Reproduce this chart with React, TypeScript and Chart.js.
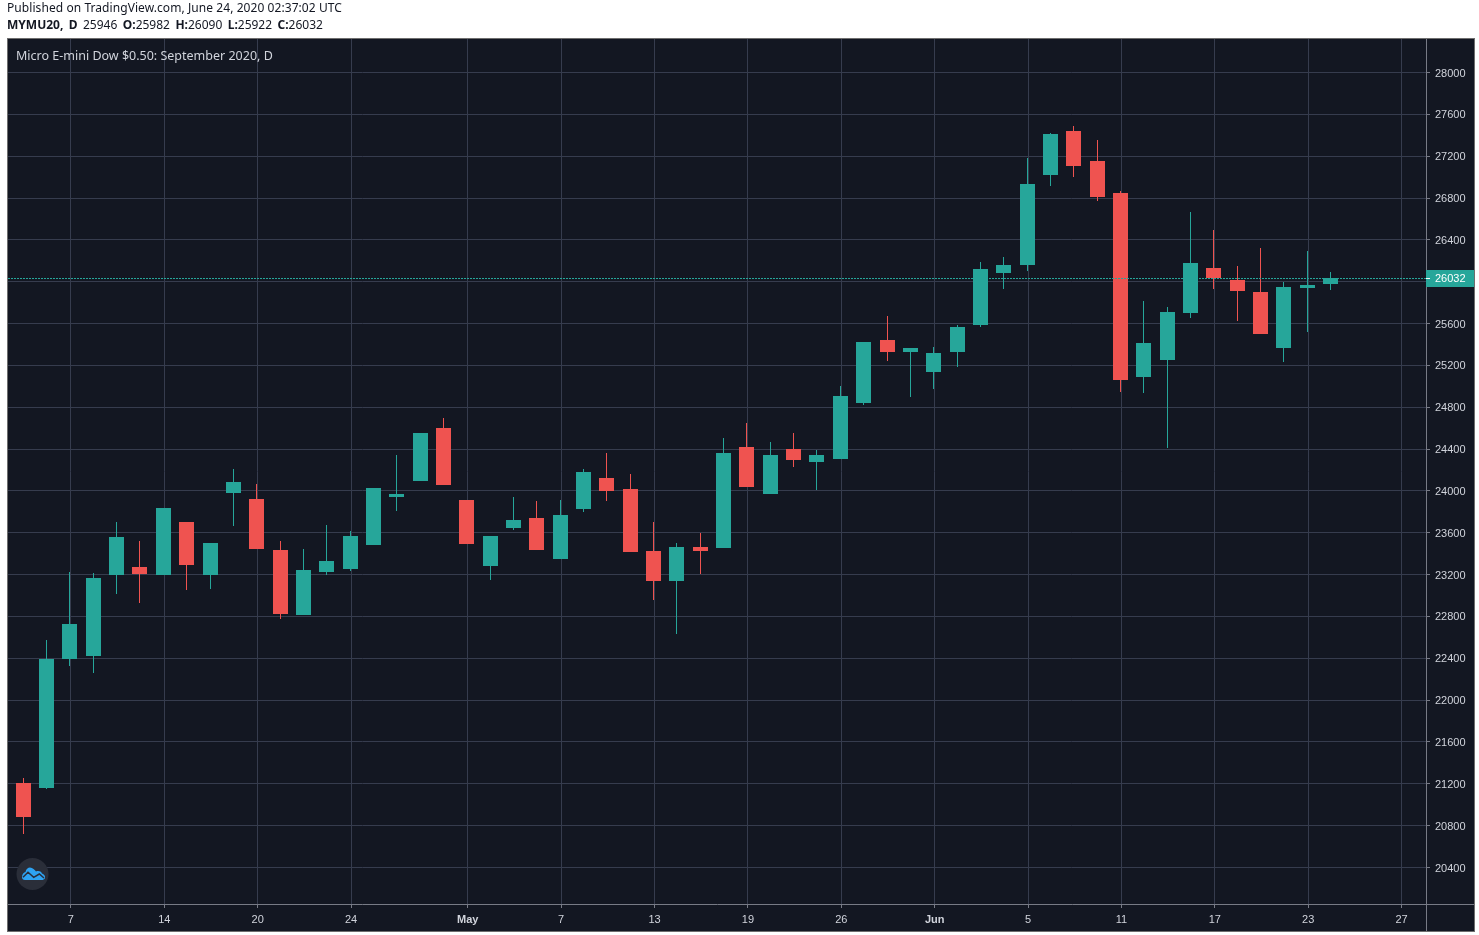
import React, { useEffect, useRef } from "react";
import { Chart, registerables } from "chart.js";

Chart.register(...registerables);

const sessions = [
  "Apr 3", "Apr 6", "Apr 7", "Apr 8", "Apr 9", "Apr 13", "Apr 14", "Apr 15", "Apr 16", "Apr 17",
  "Apr 20", "Apr 21", "Apr 22", "Apr 23", "Apr 24", "Apr 27", "Apr 28", "Apr 29", "Apr 30", "May 1",
  "May 4", "May 5", "May 6", "May 7", "May 8", "May 11", "May 12", "May 13", "May 14", "May 15",
  "May 18", "May 19", "May 20", "May 21", "May 22", "May 26", "May 27", "May 28", "May 29", "Jun 1",
  "Jun 2", "Jun 3", "Jun 4", "Jun 5", "Jun 8", "Jun 9", "Jun 10", "Jun 11", "Jun 12", "Jun 15",
  "Jun 16", "Jun 17", "Jun 18", "Jun 19", "Jun 22", "Jun 23", "Jun 24",
];

const opens = [
  21205, 21157, 22390, 22419, 23194, 23270, 23194, 23701, 23194, 23978,
  23921, 23433, 22811, 23222, 23251, 23481, 23940, 24093, 24600, 23911,
  23280, 23643, 23739, 23347, 23825, 24121, 24016, 23423, 23136, 23461,
  23452, 24418, 23968, 24399, 24274, 24303, 24839, 25441, 25326, 25135,
  25326, 25585, 26082, 26158, 27019, 27440, 27153, 26847, 25087, 25250,
  25700, 26130, 26015, 25900, 25365, 25939, 25982,
];
const closes = [
  20879, 22390, 22725, 23165, 23557, 23203, 23835, 23289, 23500, 24083,
  23442, 22821, 23241, 23328, 23567, 24026, 23968, 24552, 24054, 23490,
  23567, 23720, 23433, 23768, 24179, 23997, 23414, 23136, 23461, 23423,
  24360, 24035, 24341, 24294, 24341, 24906, 25422, 25326, 25365, 25317,
  25566, 26120, 26158, 26933, 27411, 27105, 26809, 25059, 25413, 25709,
  26178, 26034, 25910, 25499, 25948, 25967, 26032,
];
const highs = [
  21252, 22572, 23222, 23213, 23701, 23519, 23835, 23701, 23500, 24207,
  24064, 23519, 23444, 23672, 23614, 24026, 24341, 24552, 24695, 23911,
  23567, 23940, 23901, 23911, 24207, 24360, 24160, 23701, 23500, 23595,
  24504, 24647, 24466, 24552, 24389, 25001, 25422, 25671, 25365, 25374,
  25585, 26187, 26235, 27182, 27421, 27488, 27354, 26866, 25814, 25757,
  26665, 26493, 26149, 26321, 25996, 26292, 26090,
];
const lows = [
  20717, 21147, 22323, 22256, 23012, 22926, 23194, 23050, 23060, 23662,
  23442, 22773, 22811, 23194, 23232, 23481, 23806, 24093, 24054, 23490,
  23146, 23624, 23433, 23347, 23796, 23901, 23414, 22955, 22629, 23203,
  23452, 24035, 23968, 24227, 24007, 24303, 24820, 25240, 24896, 24973,
  25183, 25566, 25929, 26101, 26914, 27000, 26771, 24944, 24934, 24408,
  25652, 25929, 25623, 25499, 25231, 25518, 25922,
];

const priceTicks = [
  20400, 20800, 21200, 21600, 22000, 22400, 22800, 23200, 23600, 24000,
  24400, 24800, 25200, 25600, 26000, 26400, 26800, 27200, 27600, 28000,
];
const timeTickIndexes = [2, 6, 10, 14, 19, 23, 27, 31, 35, 39, 43, 47, 51, 55, 59];
const timeTickLabels = ["7", "14", "20", "24", "May", "7", "13", "19", "26", "Jun", "5", "11", "17", "23", "27"];
const boldTimeLabels = ["May", "Jun"];
const lastPrice = 26032;

const UP = "#26a69a";
const DOWN = "#ef5350";
const BG = "#131722";
const GRID = "#363c4e";
const AXIS = "#787b86";
const TEXT = "#d1d4dc";
const GRID_SHIFT = 0.0407;
const Y_LABEL_NUDGE = 1;

const frame = {
  id: "frame",
  beforeDraw(chart: any) {
    const { ctx, width, height } = chart;
    ctx.save();
    ctx.fillStyle = "#ffffff";
    ctx.fillRect(0, 0, width, height);
    ctx.fillStyle = BG;
    ctx.fillRect(7, 38, 1468, 894);
    ctx.strokeStyle = "#6e6e6e";
    ctx.lineWidth = 1;
    ctx.strokeRect(7.5, 38.5, 1467, 893);
    ctx.restore();
    chart.scales.y.getLabelItems(chart.chartArea).forEach((item: any) => {
      item.options.translation[1] = Math.round(item.options.translation[1]) + Y_LABEL_NUDGE;
    });
  },
  afterDatasetsUpdate(chart: any) {
    chart.data.datasets.forEach((_: any, i: number) => {
      chart.getDatasetMeta(i).data.forEach((el: any) => {
        el.x = Math.floor(el.x) + 0.5;
        el.y = Math.round(el.y);
        el.base = Math.round(el.base);
      });
    });
  },
  afterDraw(chart: any) {
    const { ctx, chartArea, scales } = chart;
    const y = Math.floor(scales.y.getPixelForValue(lastPrice));
    ctx.save();
    // axis lines carried on to the frame
    ctx.strokeStyle = AXIS;
    ctx.lineWidth = 1;
    ctx.beginPath();
    ctx.moveTo(chartArea.right, 904.5);
    ctx.lineTo(1474, 904.5);
    ctx.moveTo(1426.5, chartArea.bottom);
    ctx.lineTo(1426.5, 931);
    ctx.stroke();
    // last price line
    ctx.strokeStyle = UP;
    ctx.setLineDash([2, 1]);
    ctx.beginPath();
    ctx.moveTo(8, y + 0.5);
    ctx.lineTo(chartArea.right, y + 0.5);
    ctx.stroke();
    ctx.setLineDash([]);
    // last price label
    ctx.fillStyle = UP;
    ctx.fillRect(1426, y - 8, 48, 17);
    ctx.fillStyle = "#ffffff";
    ctx.fillRect(1426, y, 4, 1);
    ctx.font = "11px 'Liberation Sans', Arial, sans-serif";
    ctx.textBaseline = "middle";
    ctx.textAlign = "left";
    ctx.fillText(String(lastPrice), 1435, y + 1);
    ctx.restore();
  },
};

const absolute: React.CSSProperties = { position: "absolute", whiteSpace: "nowrap" };
const headerFont = "'Noto Sans', sans-serif";

export default function App() {
  const ref = useRef<HTMLCanvasElement | null>(null);

  useEffect(() => {
    if (!ref.current) return;
    const colours = opens.map((o, i) => (closes[i] >= o ? UP : DOWN));
    const chart = new Chart(ref.current, {
      type: "bar",
      data: {
        labels: sessions,
        datasets: [
          {
            label: "High-Low",
            data: sessions.map((_, i) => ({ x: i, y: [lows[i], highs[i]] })) as any,
            backgroundColor: colours,
            maxBarThickness: 1,
            grouped: false,
            borderWidth: 0,
          },
          {
            label: "Open-Close",
            data: sessions.map((_, i) => ({ x: i, y: [opens[i], closes[i]] })) as any,
            backgroundColor: colours,
            maxBarThickness: 15,
            grouped: false,
            borderWidth: 0,
          },
        ],
      },
      options: {
        responsive: false,
        animation: false,
        devicePixelRatio: 1,
        layout: { padding: { left: 8, top: 39, right: 5, bottom: 4 } },
        plugins: { legend: { display: false }, tooltip: { enabled: false }, title: { display: false } },
        scales: {
          x: {
            type: "linear",
            offset: false,
            min: -0.6541,
            max: 60.087,
            afterFit(scale: any) {
              scale.height = 27;
            },
            afterBuildTicks(scale: any) {
              scale.ticks = timeTickIndexes.map((v) => ({ value: v + GRID_SHIFT }));
            },
            grid: { color: GRID, tickColor: AXIS, tickLength: 4, offset: false },
            border: { color: AXIS },
            ticks: {
              autoSkip: false,
              maxRotation: 0,
              padding: 5,
              color: TEXT,
              callback: (_v: any, i: number) => timeTickLabels[i],
              font: (c: any) => ({
                family: "'Liberation Sans', Arial, sans-serif",
                size: 11,
                weight: boldTimeLabels.includes(timeTickLabels[c.index]) ? "bold" : "normal",
              }),
            },
          },
          y: {
            position: "right",
            min: 20051.1,
            max: 28320.3,
            afterFit(scale: any) {
              scale.width = 48;
            },
            afterBuildTicks(scale: any) {
              scale.ticks = priceTicks.map((v) => ({ value: v }));
            },
            grid: { color: GRID, tickColor: AXIS, tickLength: 4 },
            border: { color: AXIS },
            ticks: {
              padding: 5,
              color: TEXT,
              font: { family: "'Liberation Sans', Arial, sans-serif", size: 11 },
              callback: (v: any) => (v === 26000 ? "" : String(v)),
            },
          },
        },
      } as any,
      plugins: [frame],
    });
    return () => chart.destroy();
  }, []);

  return (
    <div style={{ position: "absolute", left: 0, top: 0, width: 1479, height: 935, background: "#fff", overflow: "hidden" }}>
      <canvas ref={ref} width={1479} height={935} style={{ position: "absolute", left: 0, top: 0, width: 1479, height: 935 }} />
      <div style={{ ...absolute, left: 7, top: 1, font: `12px/14px ${headerFont}`, letterSpacing: "0.07px", color: "#131722" }}>
        Published on TradingView.com, June 24, 2020 02:37:02 UTC
      </div>
      <div style={{ ...absolute, left: 7, top: 18, font: `12px/14px ${headerFont}`, wordSpacing: "2.3px", color: "#131722" }}>
        <b>MYMU20, D</b> 25946 <b>O:</b>25982 <b>H:</b>26090 <b>L:</b>25922 <b>C:</b>26032
      </div>
      <div style={{ ...absolute, left: 16, top: 49, font: `12.5px/14px ${headerFont}`, color: TEXT }}>
        Micro E-mini Dow $0.50: September 2020, D
      </div>
      <svg style={{ position: "absolute", left: 16, top: 858 }} width="33" height="33" viewBox="0 0 33 33">
        <circle cx="16.5" cy="16" r="16" fill="#2a2e39" />
        <path d="M6 19 C6 16 8 14.5 9.5 14 C10 11 12 9.5 14 9.5 C16.5 9.5 19 12 20 13.5 C22 12.5 25 13 26 15.5 C28 16 29.5 18 29 20 C28.5 21.5 27 22 25.5 22 L9 22 C7 22 6 21 6 19 Z" fill="#2ea3f2" />
        <path d="M7 19.3 L12 14.3 L17.7 19.3 L23.3 16 L28 20" fill="none" stroke="#2a2e39" strokeWidth="1.5" />
      </svg>
    </div>
  );
}
